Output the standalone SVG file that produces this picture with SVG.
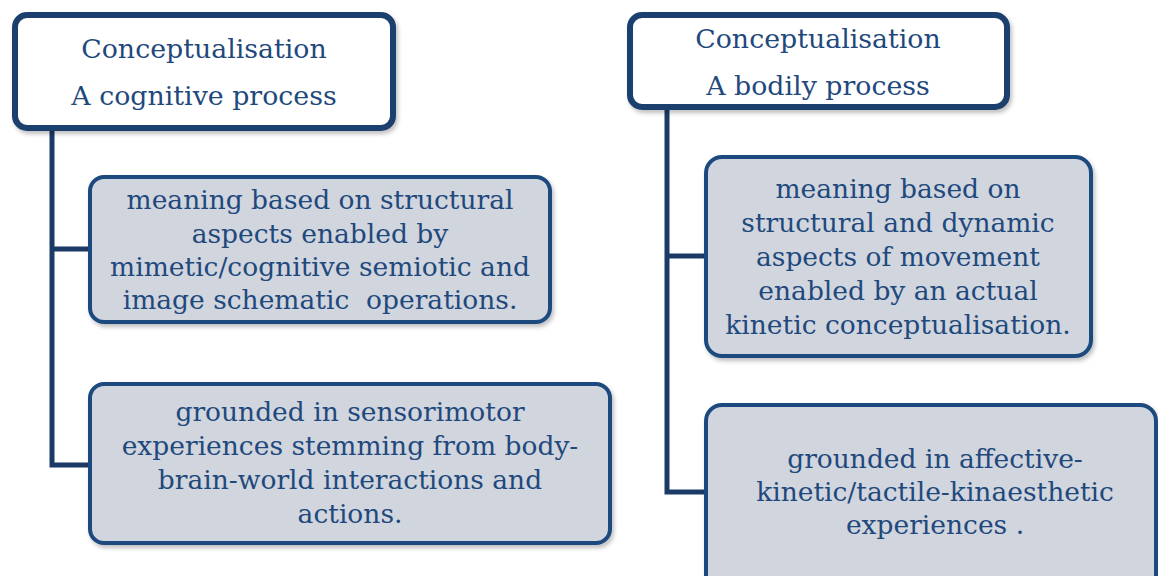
<svg xmlns="http://www.w3.org/2000/svg" width="1158" height="576" viewBox="0 0 1158 576">
<defs>
<style>
.head{fill:#ffffff;stroke:#1f3f6e;stroke-width:6}
.sub{fill:#d1d5de;stroke:#1f4a7e;stroke-width:4}
.conn{fill:none;stroke:#1b3a66;stroke-width:5}
text{font-family:"DejaVu Serif","Liberation Serif",serif;fill:#1f497d;text-anchor:middle}
.t{font-size:26.8px}
.s{font-size:26.5px}
.pre{white-space:pre}
</style>
<filter id="sh" x="-5%" y="-5%" width="115%" height="120%">
<feDropShadow dx="2" dy="3" stdDeviation="2" flood-color="#000" flood-opacity="0.25"/>
</filter>
</defs>
<g id="connectors">
<path class="conn" d="M52 131 V465 H92 M52 249 H90"/>
<path class="conn" d="M667 110 V492 H707 M667 256 H705"/>
</g>
<g id="head-left">
<rect class="head" x="15" y="15" width="378" height="113" rx="12" filter="url(#sh)"/>
<text class="t" x="204" y="58">Conceptualisation</text>
<text class="t" x="204" y="105">A cognitive process</text>
</g>
<g id="left-1">
<rect class="sub" x="90" y="177" width="460" height="145" rx="14" filter="url(#sh)"/>
<text class="s" x="320" y="209">meaning based on structural</text>
<text class="s" x="320" y="243">aspects enabled by</text>
<text class="s" x="320" y="276">mimetic/cognitive semiotic and</text>
<text class="s pre" x="320" y="309" xml:space="preserve">image schematic  operations.</text>
</g>
<g id="left-2">
<rect class="sub" x="90" y="384" width="520" height="159" rx="14" filter="url(#sh)"/>
<text class="s" x="350" y="421">grounded in sensorimotor</text>
<text class="s" x="350" y="455">experiences stemming from body-</text>
<text class="s" x="350" y="489">brain-world interactions and</text>
<text class="s" x="350" y="523">actions.</text>
</g>
<g id="head-right">
<rect class="head" x="630" y="15" width="377" height="92" rx="12" filter="url(#sh)"/>
<text class="t" x="818" y="48">Conceptualisation</text>
<text class="t" x="818" y="95">A bodily process</text>
</g>
<g id="right-1">
<rect class="sub" x="706" y="157" width="385" height="199" rx="16" filter="url(#sh)"/>
<text class="s" x="898" y="198">meaning based on</text>
<text class="s" x="898" y="232">structural and dynamic</text>
<text class="s" x="898" y="266">aspects of movement</text>
<text class="s" x="898" y="300">enabled by an actual</text>
<text class="s" x="898" y="334">kinetic conceptualisation.</text>
</g>
<g id="right-2">
<rect class="sub" x="706" y="405" width="450" height="190" rx="16" filter="url(#sh)"/>
<text class="s" x="935" y="468">grounded in affective-</text>
<text class="s" x="935" y="501">kinetic/tactile-kinaesthetic</text>
<text class="s" x="935" y="534">experiences .</text>
</g>
</svg>
